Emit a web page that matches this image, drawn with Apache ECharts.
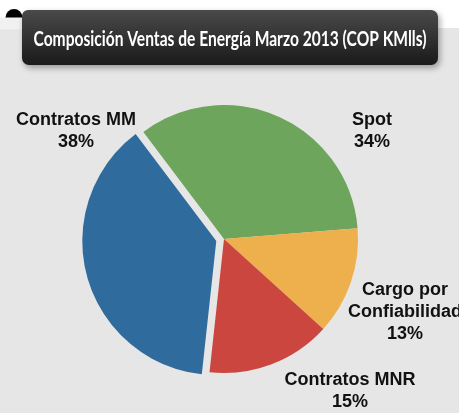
<!DOCTYPE html>
<html><head><meta charset="utf-8">
<script src="https://cdn.jsdelivr.net/npm/echarts@6/dist/echarts.min.js"></script>
<style>html,body{margin:0;padding:0;background:#fff;}#c{width:459px;height:413px;}</style>
</head><body><div id="c"></div>
<script>
const titleText = 'Composición Ventas de Energía Marzo 2013 (COP KMlls)';
const categories = ['Spot', 'Cargo por\nConfiabilidad', 'Contratos MNR', 'Contratos MM'];
const values = [34, 13, 15, 38];
const colors = ['#6ca55b', '#eeaf4d', '#cc4640', '#2f6c9d'];
const labelPos = [[372, 131], [405, 312], [350, 391], [76, 131]];

const total = values.reduce((a, b) => a + b, 0);
const labelGraphics = categories.map((c, i) => ({
  type: 'text', z: 10, x: labelPos[i][0], y: labelPos[i][1],
  style: {
    text: c + '\n' + Math.round(values[i] / total * 100) + '%',
    fill: '#111', font: 'bold 18px "Liberation Sans", Arial, sans-serif',
    lineHeight: 22, align: 'center', verticalAlign: 'middle'
  }
}));

const titleFont = 'bold 20px Lato, "Open Sans", sans-serif';
const ctx = document.createElement('canvas').getContext('2d');
ctx.font = titleFont;
const titleScale = 393 / ctx.measureText(titleText).width;

const chart = echarts.init(document.getElementById('c'), null, {renderer: 'canvas'});
chart.setOption({
  animation: false,
  backgroundColor: '#ffffff',
  graphic: [
    {type: 'rect', z: -10, shape: {x: 0, y: 28, width: 459, height: 385}, style: {fill: '#e6e6e6'}},
    {type: 'circle', z: 1, shape: {cx: 14, cy: 17.5, r: 8.5}, style: {fill: '#000'}},
    {type: 'rect', z: 2, shape: {x: 0, y: 17.5, width: 22, height: 12}, style: {fill: '#f1f1f1'}},
    {type: 'rect', z: 3, shape: {x: 22, y: 10, width: 416, height: 55, r: [6, 7, 7, 7]},
      style: {
        fill: new echarts.graphic.LinearGradient(0, 0, 0, 1, [
          {offset: 0, color: '#4a4a4a'}, {offset: 1, color: '#1a1a1a'}]),
        shadowBlur: 6, shadowOffsetX: 2, shadowOffsetY: 3, shadowColor: 'rgba(0,0,0,0.35)'
      }},
    {type: 'text', z: 4, x: 230, y: 40, scaleX: titleScale,
      style: {text: titleText, fill: '#ffffff', font: titleFont,
        align: 'center', verticalAlign: 'middle'}}
  ].concat(labelGraphics),
  series: [{
    type: 'pie',
    center: [224, 239],
    radius: 134,
    startAngle: 127,
    clockwise: true,
    selectedMode: 'single',
    selectedOffset: 8,
    data: categories.map((c, i) => ({
      name: c, value: values[i], selected: i === 3,
      itemStyle: {color: colors[i]}
    })),
    label: {show: false},
    labelLine: {show: false},
    emphasis: {disabled: true}
  }]
});
</script></body></html>
